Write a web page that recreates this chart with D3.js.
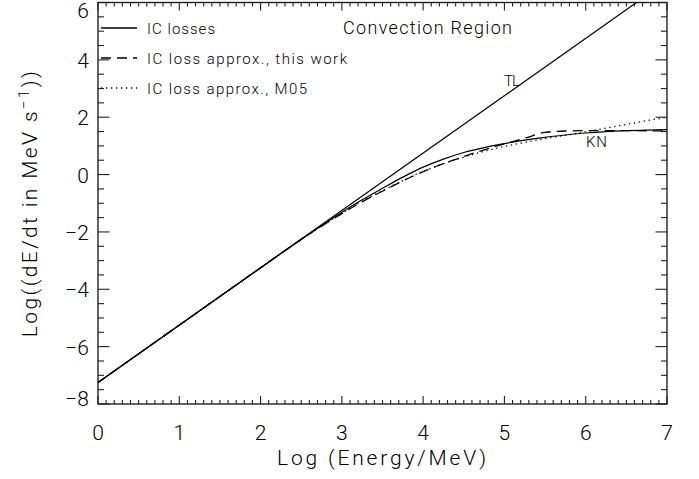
<!DOCTYPE html>
<html><head><meta charset="utf-8">
<script src="https://cdn.jsdelivr.net/npm/d3@7"></script>
<style>
body{margin:0;background:#fff;}
text{font-family:Roboto,"Liberation Sans",Arial,sans-serif;font-weight:300;fill:#000;}
</style></head>
<body><svg id="c" width="699" height="479"></svg>
<script>
// ---- data ----
const xTickLabels = ["0","1","2","3","4","5","6","7"];
const yTickValues = [-8,-6,-4,-2,0,2,4,6];
// Thomson limit line
const tlX = [0, 7];
const tlY = [-7.25, 6.75];
// IC losses (solid)
const icX = [0, 1, 2, 2.5, 2.75, 3, 3.25, 3.5, 3.75, 4, 4.25, 4.5, 4.75, 5, 5.25, 5.5, 5.75, 6, 6.25, 6.5, 6.75, 7];
const icY = [-7.25, -5.25, -3.25, -2.26, -1.78, -1.31, -0.88, -0.48, -0.09, 0.26, 0.54, 0.77, 0.94, 1.08, 1.2, 1.3, 1.38, 1.45, 1.5, 1.53, 1.55, 1.57];
// IC loss approx., this work (dashed)
const twX = [0, 1, 2, 2.5, 2.75, 3, 3.25, 3.5, 3.75, 4, 4.25, 4.5, 4.75, 5, 5.25, 5.5, 5.75, 6, 6.5, 7];
const twY = [-7.25, -5.25, -3.25, -2.26, -1.8, -1.36, -0.95, -0.58, -0.22, 0.1, 0.38, 0.63, 0.86, 1.07, 1.27, 1.47, 1.52, 1.53, 1.53, 1.52];
// IC loss approx., M05 (dotted)
const m05X = [0, 1, 2, 2.5, 2.75, 3, 3.25, 3.5, 3.75, 4, 4.25, 4.5, 4.75, 5, 5.25, 5.5, 5.75, 6, 6.25, 6.5, 6.75, 7];
const m05Y = [-7.25, -5.25, -3.25, -2.26, -1.8, -1.35, -0.93, -0.56, -0.21, 0.11, 0.38, 0.61, 0.81, 0.98, 1.12, 1.25, 1.37, 1.49, 1.62, 1.75, 1.88, 2.0];
const legendLabels = ["IC losses", "IC loss approx., this work", "IC loss approx., M05"];

// ---- layout ----
const L = 98, R = 667, T = 2.5, B = 404;
const svg = d3.select("#c");
const x = d3.scaleLinear().domain([0, 7]).range([L, R]);
const y = d3.scaleLinear().domain([-8, 6]).range([B, T]);

svg.append("defs").append("clipPath").attr("id","clip")
  .append("rect").attr("x",L).attr("y",T).attr("width",R-L).attr("height",B-T);

const axisCol = "#222";
svg.append("rect").attr("x",L).attr("y",T).attr("width",R-L).attr("height",B-T)
  .attr("fill","none").attr("stroke",axisCol).attr("stroke-width",1.4);

const xMinor = d3.range(0, 70.001, 1).map(d=>d/10);
const g = svg.append("g").attr("stroke",axisCol).attr("stroke-width",1.1);
xMinor.forEach(v=>{
  const major = Math.abs(v-Math.round(v))<1e-6;
  const len = major ? 8 : 4;
  g.append("line").attr("x1",x(v)).attr("x2",x(v)).attr("y1",B).attr("y2",B-len);
  g.append("line").attr("x1",x(v)).attr("x2",x(v)).attr("y1",T).attr("y2",T+len);
});
const yMinor = d3.range(-16, 12.001, 1).map(d=>d/2);
yMinor.forEach(v=>{
  const major = Math.abs(v/2-Math.round(v/2))<1e-6;
  const len = major ? 11.5 : 6;
  g.append("line").attr("x1",L).attr("x2",L+len).attr("y1",y(v)).attr("y2",y(v));
  g.append("line").attr("x1",R).attr("x2",R-len).attr("y1",y(v)).attr("y2",y(v));
});

xTickLabels.forEach(t=>{
  svg.append("text").attr("x",x(+t)).attr("y",440).attr("text-anchor","middle")
    .attr("font-size",21).text(t);
});
yTickValues.forEach(v=>{
  const yy = Math.min(Math.max(y(v)+8, 18), 406);
  svg.append("text").attr("x",89).attr("y",yy).attr("text-anchor","end")
    .attr("font-size",21).text(v<0 ? "\u2212"+Math.abs(v) : String(v));
});

svg.append("text").attr("x",381.5).attr("y",465).attr("text-anchor","middle")
  .attr("font-size",21).attr("textLength",209).attr("lengthAdjust","spacing")
  .text("Log (Energy/MeV)");
const yt = svg.append("text").attr("transform","translate(37,203) rotate(-90)")
  .attr("text-anchor","middle").attr("font-size",21).attr("letter-spacing",2.4);
yt.append("tspan").text("Log((dE/dt in MeV s");
yt.append("tspan").attr("dy",-8).attr("font-size",15).text("\u22121");
yt.append("tspan").attr("dy",8).text("))");

const line = d3.line().curve(d3.curveMonotoneX).x(d=>x(d[0])).y(d=>y(d[1]));
const plot = svg.append("g").attr("clip-path","url(#clip)").attr("fill","none").attr("stroke","#000");
plot.append("path").attr("d", line(d3.zip(tlX, tlY))).attr("stroke-width",1.2);
plot.append("path").attr("d", line(d3.zip(icX, icY))).attr("stroke-width",1.2);
plot.append("path").attr("d", line(d3.zip(twX, twY))).attr("stroke-width",1.3).attr("stroke-dasharray","10,6");
plot.append("path").attr("d", line(d3.zip(m05X, m05Y))).attr("stroke-width",1.3).attr("stroke-dasharray","1.3,3.7");

svg.append("text").attr("x",504).attr("y",86).attr("font-size",15).attr("textLength",16).text("TL");
svg.append("text").attr("x",586).attr("y",146.5).attr("font-size",15).attr("textLength",21).text("KN");

svg.append("text").attr("x",343).attr("y",34).attr("font-size",18).attr("textLength",169)
  .attr("lengthAdjust","spacing").text("Convection Region");

const dashes = [null, "10,6", "1.3,3.7"];
const lw = [68, 200, 160];
legendLabels.forEach((lab,i)=>{
  const ly = 28 + i*30;
  const ln = svg.append("line").attr("x1",101).attr("x2",137).attr("y1",ly).attr("y2",ly)
    .attr("stroke","#000").attr("stroke-width",1.3);
  if (dashes[i]) ln.attr("stroke-dasharray",dashes[i]);
  svg.append("text").attr("x",147).attr("y",ly+5.5).attr("font-size",15)
    .attr("textLength",lw[i]).attr("lengthAdjust","spacing").text(lab);
});
</script></body></html>
